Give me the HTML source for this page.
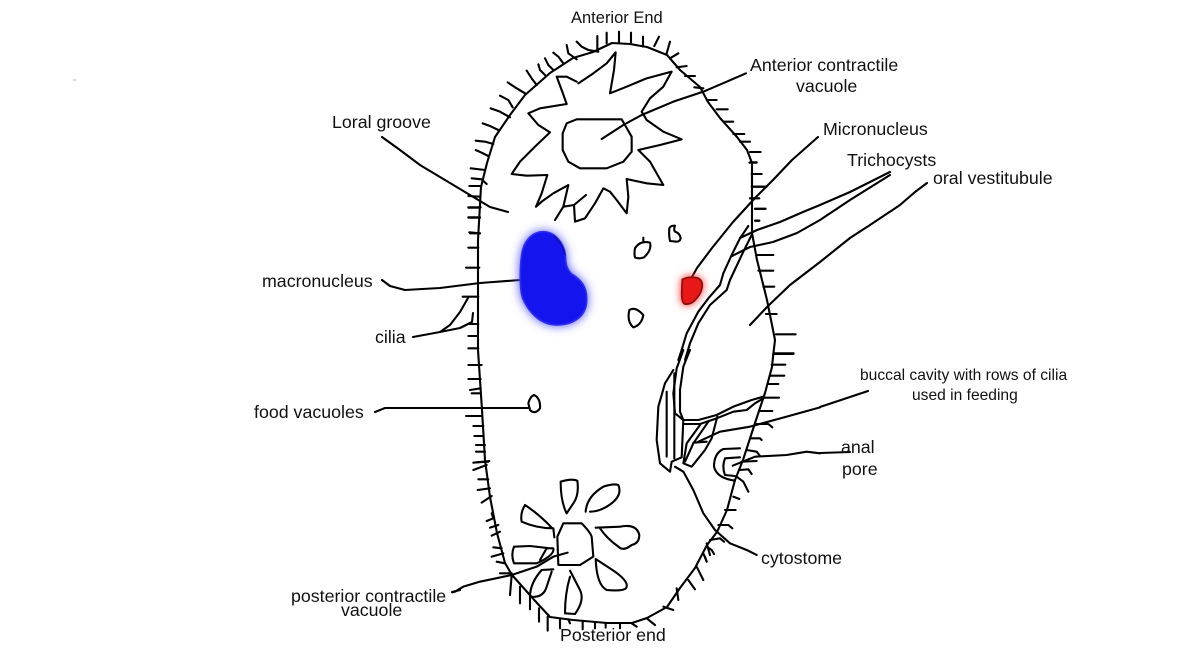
<!DOCTYPE html>
<html><head><meta charset="utf-8"><style>
html,body{margin:0;padding:0;background:#fff;width:1180px;height:653px;overflow:hidden}
svg{display:block}
text{font-family:"Liberation Sans",sans-serif;font-size:17.8px;fill:#111}
.l path{fill:none;stroke:#000;stroke-width:6.3;stroke-linejoin:round;stroke-linecap:round}
.t path{fill:none;stroke:#000;stroke-width:2.1;stroke-linejoin:round;stroke-linecap:round}
</style></head><body>
<svg width="1180" height="653" viewBox="0 0 1180 653" xmlns="http://www.w3.org/2000/svg">
<defs>
<filter id="b1" x="-30%" y="-30%" width="160%" height="160%"><feGaussianBlur stdDeviation="14"/></filter>
<filter id="b2" x="-40%" y="-40%" width="180%" height="180%"><feGaussianBlur stdDeviation="12"/></filter>
</defs>
<rect width="1180" height="653" fill="#fff"/>
<rect x="73" y="79" width="3" height="2" fill="#ddd"/>

<g class="t">
<path d="M478,240 L481,187 487,163 495,137 510,115 525,95 550,73 573,58 593,52 612,43 630,44 647,47 667,55 680,70 700,87 708,102 720,118 737,137 747,150 752,163 752,233 757,260 767,300 775,340 773,357 772,367 765,393 755,423 743,460 735,480 727,510 717,532 707,545 695,568 680,588 667,607 647,618 632,623 607,623 573,620 550,617 537,603 512,575 505,563 497,533 490,497 485,460 482,410 478,350 478,267 478,240"/>
<path d="M382,137 L400,150 420,165 445,180 470,195 490,207 508,212"/>
<path d="M382,280 L390,286 405,290 440,288 480,283 520,280"/>
<path d="M413,337 L440,332 450,325 460,312 468,298 M440,332 L460,328 472,322 473,313"/>
<path d="M375,412 L385,408 440,408 528,408"/>
<path d="M692,277 L697,268 712,248 733,222 755,198 773,180 792,160 818,137"/>
<path d="M750,325 L767,307 790,285 820,262 850,238 870,225 900,205 915,192 927,183"/>
<path d="M740,238 L757,230 780,222 803,212 820,205 850,192 890,172"/>
<path d="M732,256 L750,247 773,242 797,233 820,220 850,200 890,175"/>
<path d="M820,407 L868,391"/>
<path d="M820,453 L850,452"/>
<path d="M452,592 L460,590"/>
</g>

<g class="l" transform="translate(460,30) scale(.33333)">
<path d="M355,160 L400,130 440,100 467,67 462,120 450,190 500,170 560,145 635,125 610,170 570,205 545,245 560,270 610,305 665,328 600,345 535,360 570,395 610,465 560,460 500,447 505,500 500,550 470,510 450,485 430,475 405,520 375,565 345,575 342,525 378,495"/>
<path d="M342,525 L310,530 285,570 M310,530 L325,465 280,490 245,515 228,530 245,490 262,435 200,437 155,432 180,395 225,350 270,307 235,285 205,250 240,235 320,222 305,180 290,140 320,140 350,155"/>
<path d="M350,268 L485,268 515,320 515,365 490,395 440,415 360,415 325,395 308,360 308,310 320,280Z"/>
<path d="M425,327 L490,285 545,255 640,215 730,185 800,155 858,130"/>
<path d="M412,60V18M440,40V8M477,38V5M513,38V8M549,50V20M583,48L597,20M620,70L630,35M630,85L655,70M650,112L680,108M675,138H705M703,172L730,175M740,210H770M770,238H803M790,275H820M820,312H853M840,335H870M870,366H902M868,398H890M875,432H903M875,470H920M870,505H890M885,537H916M885,572H898"/>
<path d="M415,65L385,60 365,50 350,35M350,88L325,70 320,45M310,100L295,80 280,68M280,120L265,105 255,85M255,135L240,120 235,103M230,165L215,145 200,122M195,190L170,175 143,157M158,232L145,210 120,197M150,262L120,245 92,235M115,300L90,288 68,280M100,342L75,335 47,332M85,378L65,368 47,360M75,420L32,415M80,462L65,448 35,445M60,468H28M60,500L25,498M60,533H25M60,563H25M60,610L28,607"/>
</g>

<g class="l" transform="translate(640,160) scale(.33333)">
<path d="M330,7H350M340,42H365M340,80H380M330,115H358M345,146H377M345,182H358M350,285H400M355,332H400M370,380H403M378,462H410M408,523H467M400,580H461"/>
<path d="M325,198L300,235 275,285 250,340 240,375 205,415 175,455 140,520 125,570 115,600"/>
<path d="M335,225L310,275 270,360 260,390 210,435 175,490 150,550 135,600"/>
<path d="M88,205Q92,196 105,197Q100,210 105,215Q120,220 122,235Q120,245 110,245L90,243Q86,225 88,205Z"/>
</g>

<g class="l" transform="translate(640,350) scale(.33333)">
<path d="M130,0L110,55 100,130 105,190 130,210M150,0L130,50 120,120 120,185 130,210"/>
<path d="M130,210H175L230,195 280,170 335,150 370,140M130,222H180L230,205 280,185 320,180 345,160 370,145"/>
<path d="M100,60L75,100 55,170 50,270 60,340 90,365 95,335 125,322 130,210M80,125V320M103,70V325"/>
<path d="M205,215L160,280 135,335M180,225L140,280 130,340 155,350 195,300 215,265 232,200M160,278L200,275"/>
<path d="M175,275L240,245 330,230 440,200 540,172"/>
<path d="M105,350L130,365 160,420 190,490 225,540 270,580 320,600 350,615"/>
<path d="M300,295L250,297 Q222,310 222,350 Q230,385 285,392M300,322L255,325 Q245,350 255,375 L285,378"/>
<path d="M278,347L345,320 440,315 500,305 540,310"/>
<path d="M400,12H460M395,44H436M390,77H433M385,102H415M372,143H417M360,183H397M350,222L385,222 397,232M330,265L360,265 365,270M320,300L350,305 360,318M305,335L350,333M300,360L325,358 335,372M290,380L310,395 325,425M280,440L298,447M255,480H287M235,525L265,525 277,535M210,570L240,565 252,575M200,590L215,600 222,612M195,620L200,635"/>
</g>

<g class="l" transform="translate(440,460) scale(.33333)">
<path d="M370,190L425,190 Q450,215 455,230 L460,290 420,315 355,315 352,230Z"/>
<path d="M380,160Q362,125 362,65 Q395,55 412,62 Q418,105 400,130 L380,160"/>
<path d="M437,155Q440,110 490,80 Q520,70 535,75 Q550,110 500,140 Q475,155 450,155"/>
<path d="M467,203L540,200 Q590,190 598,225 Q598,250 575,255 Q550,275 535,260 Q500,235 480,205"/>
<path d="M467,297L510,325 Q565,360 560,380 Q560,395 500,390 Q470,375 467,297"/>
<path d="M390,332L420,390 Q435,420 405,462 L375,460 Q375,400 390,350"/>
<path d="M340,328L305,330 Q270,370 270,410 Q310,415 320,380 L335,335"/>
<path d="M343,232L340,205 Q290,205 245,185 Q240,160 255,135 Q300,165 335,203"/>
<path d="M330,265L270,258 222,260 Q212,285 222,310 L290,310 Q345,285 340,265 L320,265 300,300"/>
<path d="M383,278L340,290 290,320 215,345 120,365 70,380 45,395 37,397"/>
<path d="M800,250L810,285M790,280L800,305M770,320L790,360M745,360L765,388M710,385L715,420M670,440L700,450M620,475L645,495M575,490L590,500"/>
<path d="M540,490V505M497,490V503M465,488V505M428,483V508M385,478L390,490M360,478V505M323,470V512M297,445V485M270,410V448M240,380V430M215,345L210,405M180,340H215"/>
<path d="M100,30L140,15M110,7L145,5M115,58H145M113,90L150,85M125,128L155,108M140,183L160,175 155,160M150,203L175,195M155,227L180,215M160,262L185,265M155,290L190,280M170,305L195,310"/>
</g>

<g class="l" transform="translate(440,200) scale(.33333)">
<path d="M85,22H122M85,52H120M90,100H120M85,143H115M78,203H118M68,290H115M85,372H115M85,408H112M85,445H115M85,495H125M85,537H122M90,570L122,565M95,580H120M78,648H125M100,678H130M103,708H130M108,735H135M108,755H135M100,788L148,783"/>
<path d="M585,145Q600,120 630,128Q636,150 612,172Q595,178 585,172Q582,160 585,145ZM610,122V113"/>
<path d="M568,330Q585,318 610,345Q605,375 580,382Q560,365 568,330Z"/>
<path d="M265,610Q270,590 282,585Q302,595 300,625Q285,645 270,630Z"/>
</g>

<g transform="translate(440,200) scale(.33333)">
<path d="M310,95C345,95 372,130 376,165C377,190 378,205 395,222C425,240 440,262 440,295C442,345 405,375 350,375C300,375 265,335 248,295C238,265 240,200 245,165C250,125 275,95 310,95Z" fill="#6060ff" stroke="#6060ff" stroke-width="8" filter="url(#b1)"/>
<path d="M310,95C345,95 372,130 376,165C377,190 378,205 395,222C425,240 440,262 440,295C442,345 405,375 350,375C300,375 265,335 248,295C238,265 240,200 245,165C250,125 275,95 310,95Z" fill="#1414ee" stroke="#2c2cf2" stroke-width="5" stroke-linejoin="round"/>
<path d="M340,105Q368,130 376,165" fill="none" stroke="#101090" stroke-width="3"/>
</g>

<g transform="translate(640,160) scale(.33333)">
<path d="M127,358Q145,350 160,352Q185,352 187,375Q187,395 170,415Q155,435 135,432Q125,430 125,400Z" fill="#ff4040" stroke="#ff4040" stroke-width="8" filter="url(#b2)"/>
<path d="M127,358Q145,350 160,352Q185,352 187,375Q187,395 170,415Q155,435 135,432Q125,430 125,400Z" fill="#e81818" stroke="#8a0c0c" stroke-width="5" stroke-linejoin="round"/>
</g>

<text x="571" y="23" style="font-size:16.5px">Anterior End</text>
<text x="750" y="71">Anterior contractile</text>
<text x="796" y="92">vacuole</text>
<text x="332" y="128">Loral groove</text>
<text x="823" y="135">Micronucleus</text>
<text x="847" y="166">Trichocysts</text>
<text x="933" y="184">oral vestitubule</text>
<text x="262" y="287">macronucleus</text>
<text x="375" y="343">cilia</text>
<text x="254" y="418">food vacuoles</text>
<text x="860" y="380" style="font-size:15.6px">buccal cavity with rows of cilia</text>
<text x="912" y="400" style="font-size:15.6px">used in feeding</text>
<text x="841" y="453">anal</text>
<text x="842" y="475">pore</text>
<text x="761" y="564">cytostome</text>
<text x="291" y="602">posterior contractile</text>
<text x="341" y="616">vacuole</text>
<text x="560" y="641">Posterior end</text>
</svg>
</body></html>
